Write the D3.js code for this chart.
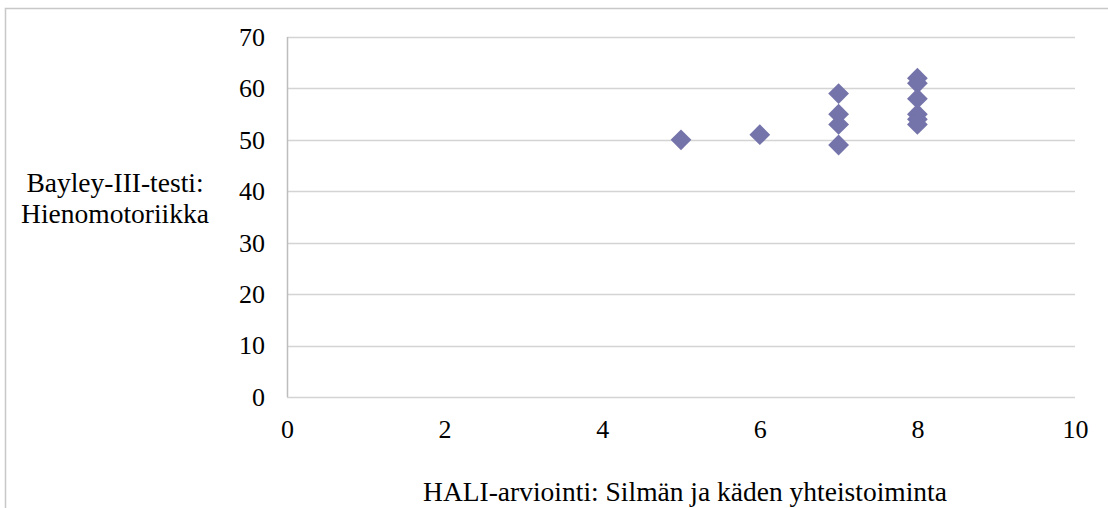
<!DOCTYPE html>
<html>
<head>
<meta charset="utf-8">
<script src="https://cdn.jsdelivr.net/npm/d3@7"></script>
<style>
  body { margin: 0; background: #fff; }
  text { font-family: "Liberation Serif", "Times New Roman", serif; fill: #000; }
</style>
</head>
<body>
<div id="chart"></div>
<script>
// data
var xValues = [5, 6, 7, 7, 7, 7, 8, 8, 8, 8, 8, 8];
var yValues = [50, 51, 59, 55, 53, 49, 62, 61, 58, 55, 54, 53];
var xTicks = [0, 2, 4, 6, 8, 10];
var yTicks = [0, 10, 20, 30, 40, 50, 60, 70];
var xTitle = "HALI-arviointi: Silmän ja käden yhteistoiminta";
var yTitle = ["Bayley-III-testi:", "Hienomotoriikka"];

var svgWidth = 1108;
var svgHeight = 508;

var margin = { top: 37, right: 33, bottom: 111, left: 287 };
var width = svgWidth - margin.left - margin.right;
var height = svgHeight - margin.top - margin.bottom;

var svg = d3.select("#chart")
  .append("svg")
  .attr("width", svgWidth)
  .attr("height", svgHeight);

// outer chart frame
svg.append("rect")
  .attr("x", 5.5)
  .attr("y", 8.5)
  .attr("width", svgWidth + 20)
  .attr("height", svgHeight + 20)
  .attr("fill", "none")
  .attr("stroke", "#c8c8c8")
  .attr("stroke-width", 1.5);

var chartGroup = svg.append("g")
  .attr("transform", `translate(${margin.left}, ${margin.top})`);

var xScale = d3.scaleLinear().domain([0, 10]).range([0, width]);
var yScale = d3.scaleLinear().domain([0, 70]).range([height, 0]);

// gridlines
chartGroup.append("g")
  .selectAll("line")
  .data(yTicks)
  .enter()
  .append("line")
  .attr("x1", 0)
  .attr("x2", width)
  .attr("y1", d => Math.round(yScale(d)) + 0.5)
  .attr("y2", d => Math.round(yScale(d)) + 0.5)
  .attr("stroke", "#d4d4d4")
  .attr("stroke-width", 1.5);

// y axis line
chartGroup.append("line")
  .attr("x1", 0.5).attr("x2", 0.5)
  .attr("y1", 0).attr("y2", height)
  .attr("stroke", "#bdbdbd")
  .attr("stroke-width", 1.5);

// axes (labels only)
var leftAxis = d3.axisLeft(yScale).tickValues(yTicks).tickSize(0).tickPadding(22);
var yAxis = chartGroup.append("g").call(leftAxis);
yAxis.select(".domain").remove();
yAxis.selectAll("text")
  .style("font-size", "26px")
  .style("font-family", "Liberation Serif, serif");

var bottomAxis = d3.axisBottom(xScale).tickValues(xTicks).tickSize(0).tickPadding(23);
var xAxis = chartGroup.append("g")
  .attr("transform", `translate(0, ${height})`)
  .call(bottomAxis);
xAxis.select(".domain").remove();
xAxis.selectAll("text")
  .style("font-size", "26px")
  .style("font-family", "Liberation Serif, serif");

// points
var diamond = d3.symbol().type(d3.symbolDiamond2).size(275);
chartGroup.selectAll("path.pt")
  .data(xValues)
  .enter()
  .append("path")
  .attr("class", "pt")
  .attr("d", diamond)
  .attr("transform", (d, i) => `translate(${xScale(d)}, ${yScale(yValues[i])})`)
  .attr("fill", "#7474ab");

// axis titles
svg.append("text")
  .attr("x", 685)
  .attr("y", 501)
  .attr("text-anchor", "middle")
  .style("font-size", "27.5px")
  .text(xTitle);

svg.append("text")
  .attr("text-anchor", "middle")
  .style("font-size", "27.5px")
  .selectAll("tspan")
  .data(yTitle)
  .enter()
  .append("tspan")
  .attr("x", 115)
  .attr("y", (d, i) => 192 + i * 31)
  .text(d => d);
</script>
</body>
</html>
